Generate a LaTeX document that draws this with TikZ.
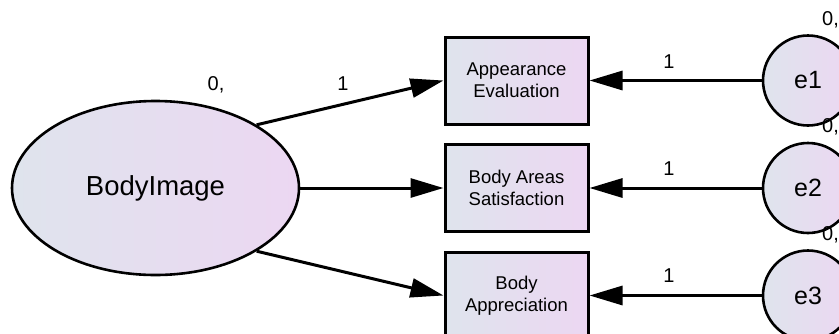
\documentclass[tikz,border=0pt]{standalone}
\usepackage{fontspec}
\setmainfont{Liberation Sans}
\usetikzlibrary{arrows.meta,shapes.geometric}
\definecolor{gradL}{RGB}{223,228,237}
\definecolor{gradR}{RGB}{236,215,242}
\begin{document}
\begin{tikzpicture}[x=1pt,y=-1pt,
  grad/.style={left color=gradL, right color=gradR},
  latent/.style={ellipse, draw, grad, line width=2.6pt, inner sep=0pt,
    minimum width=287pt, minimum height=174pt,
    font=\fontsize{27.5}{33}\selectfont},
  observed/.style={rectangle, draw, grad, line width=3pt, inner sep=0pt,
    minimum width=143pt, minimum height=87pt, align=center,
    font=\fontsize{18.5}{22}\selectfont},
  errterm/.style={circle, draw, grad, line width=2.6pt, inner sep=0pt,
    minimum size=90pt, font=\fontsize{25}{30}\selectfont},
  param/.style={inner sep=0pt, font=\fontsize{20}{24}\selectfont},
  path/.style={line width=3pt, -{Triangle[length=33pt,width=19pt]}}]

\clip (0,0) rectangle (839,333);

% latent factor
\node[latent] (bi) at (155.5,188) {BodyImage};

% observed indicators
\node[observed] (ae)  at (516.5,80.5)  {Appearance\\Evaluation};
\node[observed] (bas) at (516.5,188)   {Body Areas\\Satisfaction};
\node[observed] (ba)  at (516.5,295.5) {Body\\Appreciation};

% error terms
\node[errterm] (e1) at (808,80.5)  {e1};
\node[errterm] (e2) at (808,188)   {e2};
\node[errterm] (e3) at (808,295.5) {e3};

% loadings
\draw[path] (bi.32)   -- (ae.west);
\draw[path] (bi.east) -- (bas.west);
\draw[path] (bi.-32)  -- (ba.west);
\draw[path] (e1.west) -- (ae.east);
\draw[path] (e2.west) -- (bas.east);
\draw[path] (e3.west) -- (ba.east);

% parameter labels
\node[param] (vbi) at (216,85) {0,};
\node[param] (l1)  at (343,84) {1};
\node[param] (w1)  at (669,61.5)  {1};
\node[param] (w2)  at (669,168.5) {1};
\node[param] (w3)  at (669,275.5) {1};
\node[param, anchor=west] (v1) at (822,20)  {0,};
\node[param, anchor=west] (v2) at (822,127) {0,};
\node[param, anchor=west] (v3) at (822,235) {0,};
\end{tikzpicture}
\end{document}
